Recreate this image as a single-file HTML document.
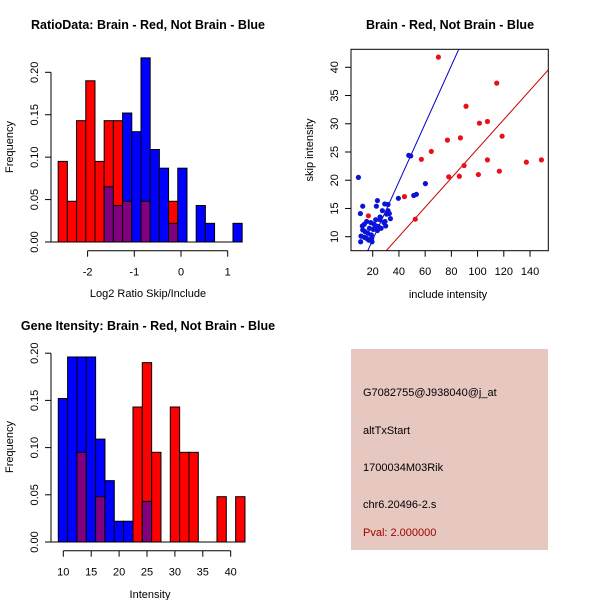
<!DOCTYPE html>
<html><head><meta charset="utf-8"><style>
body{margin:0;background:#fff}
svg{display:block;font-family:"Liberation Sans",Arial,sans-serif}
</style></head><body>
<svg id="s" width="600" height="600" viewBox="0 0 600 600" xmlns="http://www.w3.org/2000/svg">
<rect x="0" y="0" width="600" height="600" fill="#fff"/>
<text x="148" y="29" font-size="12.5" font-weight="bold" text-anchor="middle">RatioData: Brain - Red, Not Brain - Blue</text>
<text x="450" y="29" font-size="12.5" font-weight="bold" text-anchor="middle">Brain - Red, Not Brain - Blue</text>
<text x="148" y="330" font-size="12.5" font-weight="bold" text-anchor="middle">Gene Itensity: Brain - Red, Not Brain - Blue</text>
<text x="148" y="297" font-size="11" text-anchor="middle">Log2 Ratio Skip/Include</text>
<text x="13" y="147" font-size="11" text-anchor="middle" transform="rotate(-90 13 147)">Frequency</text>
<text x="448" y="298" font-size="11" text-anchor="middle">include intensity</text>
<text x="313" y="150" font-size="11" text-anchor="middle" transform="rotate(-90 313 150)">skip intensity</text>
<text x="150" y="598" font-size="11" text-anchor="middle">Intensity</text>
<text x="13" y="447" font-size="11" text-anchor="middle" transform="rotate(-90 13 447)">Frequency</text>
<g>
<rect x="351" y="349" width="197" height="201" fill="#E6C8C0"/>
<text x="363" y="396" font-size="11">G7082755@J938040@j_at</text>
<text x="363" y="434" font-size="11">altTxStart</text>
<text x="363" y="471" font-size="11">1700034M03Rik</text>
<text x="363" y="508" font-size="11">chr6.20496-2.s</text>
<text x="363" y="536" font-size="11" fill="#A00000">Pval: 2.000000</text>
</g>
</svg>
<script>
const ratioRed=[0.095,0.048,0.143,0.190,0.095,0.143,0.143,0.048,0,0.048,0,0,0.048,0,0,0,0,0,0,0];
const ratioBlue=[0,0,0,0,0,0.065,0.043,0.152,0.130,0.217,0.109,0.087,0.022,0.087,0,0.043,0.022,0,0,0.022];
const ratioBinStart=-2.63, ratioBinWidth=0.197;
const ratioXTicks=[-2,-1,0,1];
const freqTicks=[0,0.05,0.10,0.15,0.20];
const intRed=[0,0,0.095,0,0.048,0,0,0,0.143,0.190,0.095,0,0.143,0.095,0.095,0,0,0.048,0,0.048];
const intBlue=[0.152,0.196,0.196,0.196,0.109,0.065,0.022,0.022,0,0.043,0,0,0,0,0,0,0,0,0,0];
const intBinStart=9.1, intBinWidth=1.673;
const intXTicks=[10,15,20,25,30,35,40];
const redX=[70.1,114.6,91.2,101.4,107.5,118.7,77.0,86.9,64.7,57.1,89.7,107.5,137.2,148.7,78.0,86.1,100.6,116.6,44.2,52.5,16.7];
const redY=[41.8,37.2,33.1,30.1,30.4,27.8,27.1,27.5,25.1,23.7,22.6,23.6,23.2,23.6,20.6,20.7,21.0,21.6,17.1,13.1,13.7];
const blueX=[9.1,47.5,49.0,60.2,39.6,51.3,53.3,23.6,22.8,12.4,29.2,31.7,31.7,27.4,30.7,33.5,10.6,25.6,22.3,18.5,15.4,13.6,12.1,21.0,24.3,29.9,17.5,20.5,23.6,11.1,13.6,15.4,16.9,19.2,10.8,19.5,26.4,16.4,22.5,28.6,14.2,19.0,25.6,29.4,12.4,32.7];
const blueY=[20.5,24.4,24.3,19.4,16.8,17.3,17.5,16.4,15.4,15.4,15.8,15.7,14.6,14.6,14.0,13.2,14.1,13.0,13.0,12.5,12.7,12.2,11.9,12.2,11.8,11.9,11.5,11.3,11.1,10.1,9.9,9.7,9.4,9.7,9.1,9.1,11.5,10.6,11.9,12.5,10.9,10.3,13.5,12.7,11.2,14.1];
const redFit=[-0.33,0.259], blueFit=[-0.83,0.514];
const scXTicks=[20,40,60,80,100,120,140];
const scYTicks=[10,15,20,25,30,35,40];

const NS="http://www.w3.org/2000/svg", svg=document.getElementById('s');
function mk(t,a,p){const e=document.createElementNS(NS,t);for(const k in a)e.setAttribute(k,a[k]);(p||svg).appendChild(e);return e;}
function fmt(v){return v.toFixed(2);}

function hist(name,red,blue,b0,bw,xs,ys,xTicks,axisY){
  const g=mk('g',{});
  
  
  const n=red.length;
  const bl=mk('line',{x1:51,x2:xs(b0+n*bw),y1:ys(0),y2:ys(0),stroke:'#000'},g);
  
  
  for(let i=0;i<n;i++){
    const x0=xs(b0+i*bw), x1=xs(b0+(i+1)*bw);
    const r=red[i], b=blue[i], m=Math.min(r,b);
    const big=Math.max(r,b);
    if(big<=0) continue;
    const bar=mk('rect',{x:x0,y:ys(big),width:x1-x0,height:ys(0)-ys(big),fill:r>=b?'#FF0000':'#0000FF',stroke:'#000','stroke-width':1},g);
    
    
    if(m>0){
      const ov=mk('rect',{x:x0,y:ys(m),width:x1-x0,height:ys(0)-ys(m),fill:'#800080',stroke:'#000','stroke-width':1},g);
      
      
    }
  }
  const ya=mk('g',{},g);
  
  
  mk('line',{x1:51,x2:51,y1:ys(0),y2:ys(0.2),stroke:'#000'},ya);
  freqTicks.forEach(t=>{
    mk('line',{x1:45,x2:51,y1:ys(t),y2:ys(t),stroke:'#000'},ya);
    const tx=mk('text',{x:38,y:ys(t),'font-size':11,'text-anchor':'middle',transform:`rotate(-90 38 ${ys(t)})`},ya);
    tx.textContent=fmt(t);
    
    
  });
  const xa=mk('g',{},g);
  
  
  mk('line',{x1:xs(xTicks[0]),x2:xs(xTicks[xTicks.length-1]),y1:axisY,y2:axisY,stroke:'#000'},xa);
  xTicks.forEach(t=>{
    mk('line',{x1:xs(t),x2:xs(t),y1:axisY,y2:axisY+6,stroke:'#000'},xa);
    const tx=mk('text',{x:xs(t),y:axisY+25,'font-size':11,'text-anchor':'middle'},xa);
    tx.textContent=String(t);
    
    
  });
}
hist('ratio-histogram',ratioRed,ratioBlue,ratioBinStart,ratioBinWidth,v=>181+v*46.7,v=>242-v*848.5,ratioXTicks,250.7);
hist('intensity-histogram',intRed,intBlue,intBinStart,intBinWidth,v=>63.3+(v-10)*5.58,v=>542-v*944,intXTicks,550.7);

const sx=v=>372.7+(v-20)*1.311, sy=v=>236.7-(v-10)*5.647;
const sg=mk('g',{});


const cp=mk('clipPath',{id:'cp'},sg);
mk('rect',{x:351,y:49.3,width:197.3,height:201.4},cp);
function fitLine(f,col,nm){
  const xa=0,xb=200;
  const l=mk('line',{x1:sx(xa),y1:sy(f[0]+f[1]*xa),x2:sx(xb),y2:sy(f[0]+f[1]*xb),stroke:col,'stroke-width':1,'clip-path':'url(#cp)'},sg);
  
  
}
fitLine(blueFit,'#0000C8','blue-fit-line');
fitLine(redFit,'#C80000','red-fit-line');
redX.forEach((x,i)=>{const c=mk('circle',{cx:sx(x),cy:sy(redY[i]),r:2.6,fill:'#E8101A','clip-path':'url(#cp)'},sg);
  
  });
blueX.forEach((x,i)=>{const c=mk('circle',{cx:sx(x),cy:sy(blueY[i]),r:2.6,fill:'#0A14D8','clip-path':'url(#cp)'},sg);
  
  });
mk('rect',{x:351,y:49.3,width:197.3,height:201.4,fill:'none',stroke:'#000'},sg);
scXTicks.forEach(t=>{
  mk('line',{x1:sx(t),x2:sx(t),y1:250.7,y2:256.7,stroke:'#000'},sg);
  const tx=mk('text',{x:sx(t),y:275,'font-size':11,'text-anchor':'middle'},sg);
  tx.textContent=String(t);
  
  
});
scYTicks.forEach(t=>{
  mk('line',{x1:345,x2:351,y1:sy(t),y2:sy(t),stroke:'#000'},sg);
  const tx=mk('text',{x:338,y:sy(t),'font-size':11,'text-anchor':'middle',transform:`rotate(-90 338 ${sy(t)})`},sg);
  tx.textContent=String(t);
  
  
});
</script>
</body></html>
